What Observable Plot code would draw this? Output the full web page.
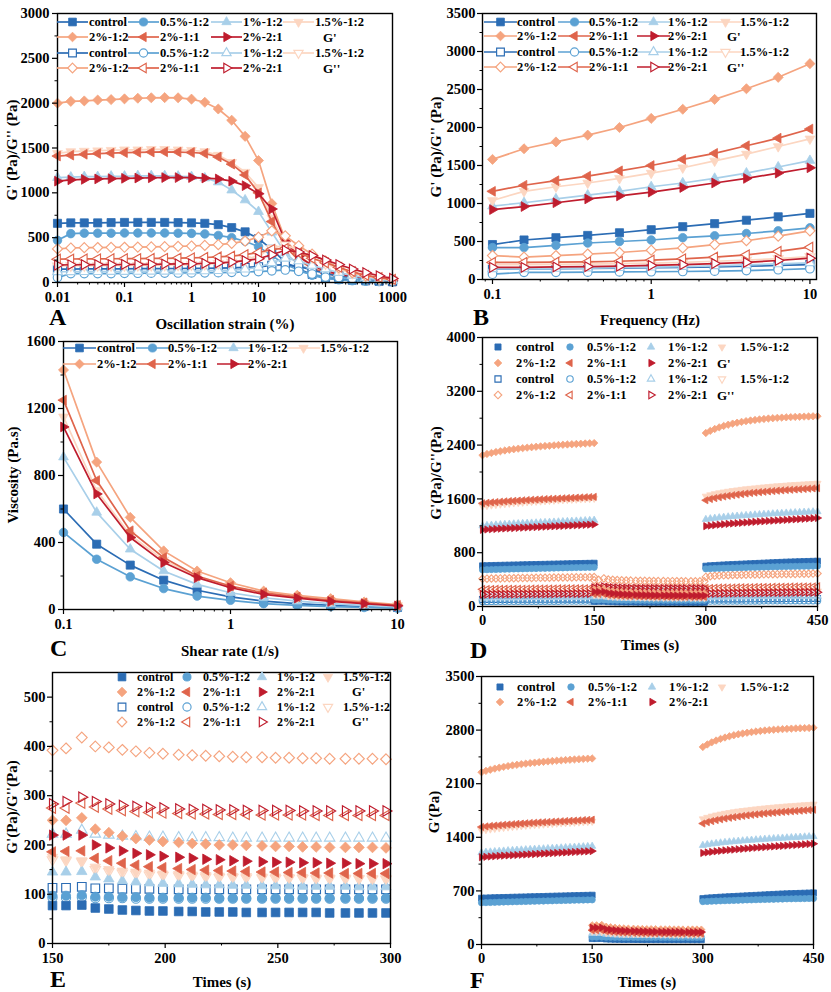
<!DOCTYPE html>
<html><head><meta charset="utf-8">
<script src="https://cdn.jsdelivr.net/npm/d3@7"></script>
<script src="https://cdn.jsdelivr.net/npm/@observablehq/plot@0.6"></script>
<style>
body{margin:0;background:#fff;}
#root{position:relative;width:831px;height:992px;background:#fff;font-family:"Liberation Serif","Times New Roman",serif;font-weight:bold;color:#000;overflow:hidden;}
.pnl{position:absolute;}
.t{position:absolute;white-space:nowrap;font-weight:bold;}
</style></head><body><div id="root"></div>
<script>
// ---------------- DATA ----------------
const samples = ["control","0.5%-1:2","1%-1:2","1.5%-1:2","2%-1:2","2%-1:1","2%-2:1"];
const colors = ["#2b6cb4","#5ba1d3","#a8cfe9","#fcd6c1","#f5a47f","#df644b","#bf1c2d"];
const symbolNames = ["square","circle","triUp","triDown","diamond","triLeft","triRight"];

// Panel A: amplitude sweep
const strainA = [0.01,0.0158,0.0251,0.0398,0.0631,0.1,0.158,0.251,0.398,0.631,1,1.58,2.51,3.98,6.31,10,15.8,25.1,39.8,63.1,100,158,251,398,631,1000];
const A_Gp = [
 [660,665,665,665,668,670,670,670,670,668,665,660,645,612,565,490,370,226,150,90,50,35,25,18,12,8],
 [470,545,550,550,550,552,552,552,552,550,548,542,525,500,460,400,300,200,140,80,45,30,20,15,10,6],
 [1170,1175,1180,1180,1185,1185,1190,1190,1190,1185,1180,1165,1120,1030,920,790,560,330,200,140,100,70,50,35,25,15],
 [1440,1460,1465,1470,1475,1480,1480,1485,1485,1480,1475,1460,1420,1340,1230,1060,720,430,280,190,130,90,60,45,30,20],
 [2000,2020,2025,2035,2040,2048,2055,2060,2062,2060,2045,2010,1935,1810,1630,1360,880,480,300,190,120,80,55,40,28,18],
 [1410,1420,1430,1438,1443,1448,1452,1455,1457,1455,1450,1440,1400,1320,1200,1000,680,400,250,160,105,70,50,35,25,15],
 [1130,1145,1150,1155,1158,1162,1165,1168,1170,1170,1170,1165,1155,1130,1080,990,820,460,290,190,130,90,65,45,30,20]
];
const A_Gpp = [
 [150,150,152,152,153,153,154,155,155,156,157,158,160,163,168,175,190,200,180,140,100,70,50,35,25,15],
 [55,100,100,100,100,102,103,104,105,106,107,108,110,113,117,122,130,140,125,95,60,55,45,35,25,15],
 [120,120,121,121,122,122,123,124,125,126,127,129,132,137,148,170,220,270,240,190,150,110,80,55,35,20],
 [185,188,188,189,190,190,191,192,193,195,198,203,212,228,255,300,380,420,360,280,210,150,105,70,45,28],
 [375,385,388,390,392,393,395,397,400,403,407,413,422,437,462,505,576,520,410,316,240,167,110,75,56,35],
 [260,262,263,264,265,266,267,268,270,272,275,279,285,295,310,335,370,380,330,270,220,170,120,80,55,35],
 [195,198,199,200,200,201,202,203,205,207,209,213,218,228,243,265,310,360,340,300,250,200,150,110,75,45]
];
const A_xTicks = [0.01,0.1,1,10,100,1000];
const A_yTicks = [0,500,1000,1500,2000,2500,3000];

// Panel B: frequency sweep
const freqB = [0.1,0.158,0.251,0.398,0.631,1,1.58,2.51,3.98,6.31,10];
const B_Gp = [
 [460,520,550,580,615,655,695,735,780,825,870],
 [420,420,450,480,500,520,550,575,605,640,680],
 [965,1010,1060,1110,1160,1220,1270,1330,1400,1480,1565],
 [1040,1160,1220,1270,1330,1400,1470,1560,1650,1750,1850],
 [1580,1720,1810,1900,2000,2120,2240,2370,2510,2660,2840],
 [1160,1240,1300,1360,1430,1500,1580,1660,1760,1860,1980],
 [920,960,1010,1060,1100,1150,1210,1270,1330,1400,1470]
];
const B_Gpp = [
 [135,140,142,145,150,155,160,165,175,185,197],
 [70,95,95,97,100,102,105,110,118,128,142],
 [140,140,145,150,155,162,170,180,192,205,220],
 [195,195,198,202,208,215,225,240,255,275,300],
 [315,295,315,335,355,385,415,460,510,570,640],
 [225,225,228,232,240,255,272,295,325,370,425],
 [160,160,165,170,175,185,195,210,225,250,280]
];
const B_xTicks = [0.1,1,10];
const B_yTicks = [0,500,1000,1500,2000,2500,3000,3500];

// Panel C: viscosity
const shearC = [0.1,0.158,0.251,0.398,0.631,1,1.58,2.51,3.98,6.31,10];
const C_visc = [
 [600,390,265,175,115,75,50,35,25,18,12],
 [460,300,195,125,80,55,35,25,17,12,8],
 [910,580,360,230,150,100,70,50,35,25,15],
 [1150,710,445,295,195,135,95,72,52,38,25],
 [1430,880,550,350,230,160,110,85,65,45,30],
 [1250,770,470,310,200,140,100,75,55,40,25],
 [1090,690,430,280,190,130,90,68,48,35,22]
];
const C_xTicks = [0.1,1,10];
const C_yTicks = [0,400,800,1200,1600];

// Panels D, E, F: three-interval thixotropy test
const timeP1 = [0,6,12,18,24,30,36,42,48,54,60,66,72,78,84,90,96,102,108,114,120,126,132,138,144,150];
const timeP2 = [150,156,163,169,175,181,187,193,199,206,212,218,224,230,236,243,249,255,261,267,273,280,286,292,298];
const timeP3 = [300,306,312,318,324,330,336,342,348,354,360,366,372,378,384,390,396,402,408,414,420,426,432,438,444,450];
const Gp_P1 = [
 [605,607,609,611,612,614,615,617,618,620,621,623,624,626,627,629,630,632,633,635,636,638,639,641,642,644],
 [545,547,549,551,553,555,556,558,559,561,562,564,565,567,568,570,571,573,574,576,577,579,580,581,582,583],
 [1200,1205,1209,1213,1217,1221,1225,1229,1232,1235,1238,1241,1244,1247,1250,1253,1256,1259,1262,1265,1268,1271,1274,1277,1280,1283],
 [1490,1500,1508,1515,1522,1528,1534,1540,1545,1550,1555,1560,1564,1568,1572,1576,1580,1584,1587,1590,1593,1596,1599,1602,1605,1608],
 [2250,2268,2283,2297,2309,2320,2330,2339,2347,2355,2362,2369,2375,2381,2386,2391,2396,2401,2405,2409,2413,2417,2420,2424,2427,2430],
 [1535,1542,1548,1553,1558,1563,1567,1571,1575,1579,1583,1587,1590,1594,1597,1600,1603,1606,1609,1612,1615,1618,1621,1624,1627,1630],
 [1140,1145,1149,1153,1157,1160,1163,1166,1169,1172,1175,1178,1181,1184,1187,1190,1193,1196,1199,1202,1205,1208,1211,1214,1217,1220]
];
const Gp_P2 = [
 [77,77,78,72,70,68,67,66,66,65,65,64,64,64,63,63,63,63,63,63,62,62,62,62,62],
 [97,97,98,95,95,94,94,93,93,93,93,93,92,92,92,92,92,92,92,92,92,92,92,92,92],
 [145,145,146,135,131,127,125,123,122,121,120,119,119,118,118,117,117,117,116,116,116,116,115,115,115],
 [175,170,168,155,150,147,145,143,141,140,139,138,137,136,136,135,135,134,134,133,133,133,132,132,132],
 [250,250,255,232,225,218,213,210,207,205,203,202,200,200,199,198,197,197,196,196,195,195,195,195,194],
 [186,187,188,173,168,163,159,156,154,152,150,149,148,147,146,145,145,144,144,143,143,142,142,142,142],
 [220,220,220,200,194,188,183,180,177,175,173,171,170,168,167,166,165,165,164,164,163,163,162,162,162]
];
const Gp_P3 = [
 [600,606,610,614,618,621,624,627,630,633,636,639,642,645,648,651,654,657,660,662,664,666,668,670,672,674],
 [560,563,566,568,570,572,574,576,578,580,582,583,585,587,588,590,591,593,594,596,597,598,599,600,601,602],
 [1295,1305,1313,1320,1327,1333,1339,1344,1349,1354,1359,1363,1367,1371,1375,1379,1383,1386,1390,1393,1396,1399,1402,1405,1408,1411],
 [1640,1660,1676,1690,1702,1713,1723,1732,1741,1749,1756,1763,1770,1776,1782,1788,1793,1798,1803,1808,1812,1816,1820,1824,1828,1832],
 [2580,2612,2640,2664,2685,2703,2719,2733,2745,2756,2766,2774,2782,2789,2795,2800,2805,2809,2813,2816,2819,2822,2824,2826,2828,2830],
 [1580,1598,1612,1625,1636,1646,1655,1664,1672,1680,1687,1694,1700,1706,1712,1717,1722,1727,1732,1736,1740,1744,1748,1752,1756,1760],
 [1195,1203,1210,1217,1223,1229,1234,1239,1244,1249,1254,1259,1264,1268,1272,1276,1280,1284,1288,1292,1296,1300,1304,1308,1312,1316]
];
const Gpp_P1 = [
 [105,105,105,106,106,106,106,107,107,107,107,107,108,108,108,108,108,109,109,109,109,109,110,110,110,110],
 [76,76,76,77,77,77,77,77,78,78,78,78,78,79,79,79,79,79,80,80,80,80,80,80,81,81],
 [130,130,131,131,132,132,133,133,134,134,135,135,136,136,137,137,138,138,139,139,140,140,141,141,142,142],
 [195,196,196,197,197,198,198,199,199,200,200,201,201,202,202,203,203,204,204,205,205,206,206,207,207,208],
 [412,414,416,417,418,419,420,421,422,423,424,425,426,427,428,429,430,431,431,432,433,434,434,435,436,437],
 [255,256,257,258,258,259,259,260,260,261,261,262,262,263,263,264,264,265,265,266,266,267,267,268,268,269],
 [180,181,181,182,182,183,183,184,184,185,185,186,186,187,187,188,188,189,189,190,190,191,191,192,192,193]
];
const Gpp_P2 = [
 [113,113,115,112,112,111,111,111,110,110,110,110,110,110,110,110,110,110,110,110,110,110,110,110,110],
 [93,93,94,92,92,92,91,91,91,91,91,91,91,91,91,91,91,91,91,91,91,91,91,91,91],
 [222,222,230,222,220,218,217,216,216,215,215,215,215,214,214,214,214,214,214,214,214,214,214,214,214],
 [170,168,166,150,146,143,141,139,138,137,136,135,134,134,133,133,132,132,132,131,131,131,131,130,130],
 [392,396,418,400,398,393,390,387,385,383,382,381,380,379,378,378,377,377,376,376,375,375,375,375,374],
 [275,275,285,277,273,270,268,266,265,264,263,263,262,262,262,261,261,261,261,260,260,260,260,260,260],
 [283,288,297,288,283,280,278,276,275,273,272,272,271,271,270,270,270,270,269,269,269,269,269,269,269]
];
const Gpp_P3 = [
 [110,111,111,112,112,113,113,114,114,115,115,115,116,116,116,117,117,117,118,118,118,119,119,119,120,120],
 [80,80,81,81,81,82,82,82,82,83,83,83,83,84,84,84,84,84,85,85,85,85,85,86,86,86],
 [140,141,142,143,144,145,146,147,147,148,149,149,150,150,151,151,152,152,153,153,154,154,155,155,156,156],
 [205,207,208,209,210,211,212,213,214,215,216,217,217,218,219,219,220,221,221,222,222,223,223,224,224,225],
 [440,450,456,460,463,466,468,470,472,474,475,476,477,478,479,480,481,482,483,484,485,486,487,488,489,490],
 [270,272,274,276,277,278,279,280,281,282,283,284,285,286,287,288,288,289,290,291,291,292,293,293,294,295],
 [190,192,194,195,196,197,198,199,200,201,202,203,203,204,205,205,206,207,207,208,208,209,209,210,210,211]
];
const D_xTicks = [0,150,300,450];
const D_yTicks = [0,800,1600,2400,3200,4000];
const E_xTicks = [150,200,250,300];
const E_yTicks = [0,100,200,300,400,500];
const F_yTicks = [0,700,1400,2100,2800,3500];

// ---------------- SYMBOLS ----------------
const DEG = Math.PI/180;
const mk = fn => ({draw(c, s){ fn(c, Math.sqrt(s/Math.PI)); }});
const triSym = a0 => mk((c,R) => { const q = 1.25*R; for (let k=0;k<3;k++){ const a=(a0+120*k)*DEG, x=q*Math.cos(a), y=q*Math.sin(a); if (k) c.lineTo(x,y); else c.moveTo(x,y);} c.closePath(); });
const SYM = {
  square: mk((c,R)=>{const h=0.9*R; c.moveTo(-h,-h); c.lineTo(h,-h); c.lineTo(h,h); c.lineTo(-h,h); c.closePath();}),
  circle: mk((c,R)=>{const q=0.95*R; c.moveTo(q,0); c.arc(0,0,q,0,2*Math.PI); c.closePath();}),
  diamond: mk((c,R)=>{const q=1.12*R; c.moveTo(0,-q); c.lineTo(q,0); c.lineTo(0,q); c.lineTo(-q,0); c.closePath();}),
  triUp: triSym(-90), triDown: triSym(90), triLeft: triSym(180), triRight: triSym(0)
};

// ---------------- HELPERS ----------------
const root = document.getElementById("root");
const zip = (xs, ys) => xs.map((x,k) => ({x, y: ys[k]}));
function seriesMarks(data, i, open, r, line, openFill) {
  const c = colors[i], out = [];
  if (line) out.push(Plot.line(data, {x:"x", y:"y", stroke:c, strokeWidth:1.7}));
  out.push(Plot.dot(data, {x:"x", y:"y", r, symbol: SYM[symbolNames[i]], fill: open ? openFill : c, stroke: c, strokeWidth: open ? 1.15 : 0.8}));
  return out;
}
function logMinor(domain) {
  const out = [];
  for (let e = -3; e <= 3; e++) for (let m = 2; m <= 9; m++) { const v = m*Math.pow(10,e); if (v > domain[0] && v < domain[1]) out.push(+v.toPrecision(3)); }
  return out;
}
function midMinor(ticks) { const o=[]; for (let k=0;k<ticks.length-1;k++) o.push((ticks[k]+ticks[k+1])/2); return o; }
function addPanel(cfg) {
  const plot = Plot.plot({
    width: cfg.w, height: cfg.h,
    marginLeft: cfg.m[0], marginRight: cfg.m[1], marginTop: cfg.m[2], marginBottom: cfg.m[3],
    x: {type: cfg.xType || "linear", domain: cfg.xDomain},
    y: {type: "linear", domain: cfg.yDomain},
    style: {fontFamily: '"Liberation Serif", "Times New Roman", serif', fontSize: "14.5px", fontWeight: "bold", color: "#000", background: "transparent", overflow: "visible"},
    marks: [
      ...cfg.marks,
      Plot.axisX({ticks: cfg.xTicks, tickSize: 5, tickPadding: cfg.xPad, tickFormat: d => String(d), label: null, fontSize: 14.5, fontWeight: "bold", strokeWidth: 1.2}),
      Plot.axisX({ticks: cfg.xMinor, tickSize: 2.5, tickFormat: () => "", label: null, strokeWidth: 1}),
      Plot.axisY({ticks: cfg.yTicks, tickSize: 5, tickPadding: cfg.yPad, tickFormat: d => String(d), label: null, fontSize: 14.5, fontWeight: "bold", strokeWidth: 1.2}),
      Plot.axisY({ticks: cfg.yMinor, tickSize: 2.5, tickFormat: () => "", label: null, strokeWidth: 1}),
      Plot.frame({stroke: "#000", strokeWidth: 1.4})
    ]
  });
  const d = document.createElement("div");
  d.className = "pnl";
  Object.assign(d.style, {left: cfg.left+"px", top: cfg.top+"px", width: cfg.w+"px", height: cfg.h+"px"});
  d.append(plot);
  root.append(d);
}
function addText(s, x, y, size, anchor, rot) {
  const d = document.createElement("div");
  d.className = "t"; d.textContent = s;
  Object.assign(d.style, {left: x+"px", top: y+"px", fontSize: size+"px", lineHeight: "1"});
  d.style.transform = `translate(${anchor === "start" ? "0" : "-50%"},-50%)` + (rot ? ` rotate(${rot}deg)` : "");
  root.append(d);
}
function addSwatch(cx, cy, w, i, open, r, line, openFill) {
  const svg = d3.create("svg").attr("width", w).attr("height", 20)
    .style("position","absolute").style("left", (cx - w/2)+"px").style("top", (cy-10)+"px").style("overflow","visible");
  if (line) svg.append("line").attr("x1",0).attr("x2",w).attr("y1",10).attr("y2",10).attr("stroke",colors[i]).attr("stroke-width",1.7);
  svg.append("path").attr("d", d3.symbol(SYM[symbolNames[i]], r*r*Math.PI)()).attr("transform", `translate(${w/2},10)`)
    .attr("fill", open ? openFill : colors[i]).attr("stroke", colors[i]).attr("stroke-width", open ? 1.15 : 0.8);
  root.append(svg.node());
}
function addLegend(L) {
  const groups = [{s:[0,1,2,3], open:false}, {s:[4,5,6], open:false}];
  if (L.gpp) groups.push({s:[0,1,2,3], open:true}, {s:[4,5,6], open:true});
  groups.forEach((g, row) => {
    g.s.forEach((i, j) => {
      addSwatch(L.mx[j], L.rows[row], L.lw, i, g.open, L.r, L.line, L.openFill);
      addText(samples[i], L.tx[j], L.rows[row], L.fs, "start");
    });
  });
  if (L.gpp) { addText("G'", L.tag, L.rows[1], L.fs+0.5, "start"); addText("G''", L.tag, L.rows[3], L.fs+0.5, "start"); }
}

// ---------------- PANEL A ----------------
{
  const marks = [];
  for (let i=0;i<7;i++) marks.push(...seriesMarks(zip(strainA, A_Gp[i]), i, false, 4.5, true));
  for (let i=0;i<7;i++) marks.push(...seriesMarks(zip(strainA, A_Gpp[i]), i, true, 4.5, true, "#fff"));
  addPanel({left:0, top:0, w:415, h:300, m:[57,23,13,18], xType:"log", xDomain:[0.01,1000], yDomain:[0,3000], xPad:4, yPad:3,
    xTicks:A_xTicks, xMinor:logMinor([0.01,1000]), yTicks:A_yTicks, yMinor:midMinor(A_yTicks), marks});
  addLegend({mx:[72.5,143.5,226.5,298.5], tx:[89,160,243,315], rows:[21.7,37.3,52.7,68.3], lw:31, r:4.3, line:true, gpp:true, tag:323, fs:12.5, openFill:"#fff"});
  addText("Oscillation strain (%)", 225, 324, 15);
  addText("G' (Pa)/G'' (Pa)", 12, 150, 15, "middle", -90);
  addText("A", 49, 317, 24, "start");
}
// ---------------- PANEL B ----------------
{
  const marks = [];
  for (let i=0;i<7;i++) marks.push(...seriesMarks(zip(freqB, B_Gp[i]), i, false, 4.5, true));
  for (let i=0;i<7;i++) marks.push(...seriesMarks(zip(freqB, B_Gpp[i]), i, true, 4.5, true, "#fff"));
  const dom = [0.0865, 11.0];
  addPanel({left:415, top:0, w:416, h:300, m:[67,15,13,21], xType:"log", xDomain:dom, yDomain:[0,3500], xPad:4, yPad:2,
    xTicks:B_xTicks, xMinor:logMinor(dom), yTicks:B_yTicks, yMinor:midMinor(B_yTicks), marks});
  addLegend({mx:[500,574,653,725], tx:[517,589,668,740], rows:[21.7,36.3,51.7,66.7], lw:33, r:4.3, line:true, gpp:true, tag:727, fs:12.5, openFill:"#fff"});
  addText("Frequency (Hz)", 650, 320, 15);
  addText("G' (Pa)/G'' (Pa)", 436, 147, 15, "middle", -90);
  addText("B", 473, 317, 24, "start");
}
// ---------------- PANEL C ----------------
{
  const marks = [];
  for (let i=0;i<7;i++) marks.push(...seriesMarks(zip(shearC, C_visc[i]), i, false, 4.5, true));
  addPanel({left:0, top:330, w:415, h:300, m:[63,18,11,21], xType:"log", xDomain:[0.1,10], yDomain:[0,1600], xPad:4, yPad:3,
    xTicks:C_xTicks, xMinor:logMinor([0.1,10]), yTicks:C_yTicks, yMinor:midMinor(C_yTicks), marks});
  addLegend({mx:[79,152,233,303], tx:[97,168,248,320], rows:[348.3,364], lw:33, r:4.3, line:true, gpp:false, fs:12.5});
  addText("Shear rate (1/s)", 230, 651, 15);
  addText("Viscosity (Pa.s)", 13, 475, 15, "middle", -90);
  addText("C", 50, 648, 24, "start");
}
// ---------------- time series helpers ----------------
const thixo = (P1, P2, P3, i) => [...zip(timeP1, P1[i]), ...zip(timeP2, P2[i]), ...zip(timeP3, P3[i])];
// ---------------- PANEL D ----------------
{
  const marks = [];
  for (let i=0;i<7;i++) marks.push(...seriesMarks(thixo(Gpp_P1, Gpp_P2, Gpp_P3, i), i, true, 3.3, false, "none"));
  for (let i=0;i<7;i++) marks.push(...seriesMarks(thixo(Gp_P1, Gp_P2, Gp_P3, i), i, false, 3.3, false));
  addPanel({left:415, top:330, w:416, h:300, m:[67,14,7,24], xDomain:[0,450], yDomain:[0,4000], xPad:3, yPad:2,
    xTicks:D_xTicks, xMinor:midMinor(D_xTicks), yTicks:D_yTicks, yMinor:midMinor(D_yTicks), marks});
  addLegend({mx:[498,570,651,722], tx:[516,587,668,740], rows:[346.7,362.7,379,395], lw:14, r:3.4, line:false, gpp:true, tag:717, fs:12.5, openFill:"none"});
  addText("Times (s)", 650, 645, 15);
  addText("G'(Pa)/G''(Pa)", 436, 473, 15, "middle", -90);
  addText("D", 470, 650, 24, "start");
}
// ---------------- PANEL E ----------------
{
  const marks = [];
  for (let i=0;i<7;i++) marks.push(...seriesMarks(zip(timeP2, Gpp_P2[i]), i, true, 4.8, false, "none"));
  for (let i=0;i<7;i++) marks.push(...seriesMarks(zip(timeP2, Gp_P2[i]), i, false, 4.8, false));
  addPanel({left:0, top:660, w:415, h:300, m:[52,25,12,17], xDomain:[150,300], yDomain:[0,550], xPad:4, yPad:2,
    xTicks:E_xTicks, xMinor:midMinor(E_xTicks), yTicks:E_yTicks, yMinor:midMinor(E_yTicks), marks});
  addLegend({mx:[122,187,262,328], tx:[137,203,277,343], rows:[677.3,692.3,707.3,722], lw:16, r:4.3, line:false, gpp:true, tag:352, fs:12, openFill:"none"});
  addText("Times (s)", 222, 982, 15);
  addText("G'(Pa)/G''(Pa)", 12, 807, 15, "middle", -90);
  addText("E", 50, 979, 24, "start");
}
// ---------------- PANEL F ----------------
{
  const marks = [];
  for (let i=0;i<7;i++) marks.push(...seriesMarks(thixo(Gp_P1, Gp_P2, Gp_P3, i), i, false, 3.3, false));
  addPanel({left:415, top:660, w:416, h:300, m:[66,18,16,16], xDomain:[0,450], yDomain:[0,3500], xPad:3, yPad:2,
    xTicks:D_xTicks, xMinor:midMinor(D_xTicks), yTicks:F_yTicks, yMinor:midMinor(F_yTicks), marks});
  addLegend({mx:[500,571,652,722], tx:[517,588,669,740], rows:[686.7,702.3], lw:14, r:3.4, line:false, gpp:false, fs:12.5});
  addText("Times (s)", 647, 982, 15);
  addText("G'(Pa)", 434, 812, 15, "middle", -90);
  addText("F", 470, 980, 24, "start");
}
</script></body></html>
